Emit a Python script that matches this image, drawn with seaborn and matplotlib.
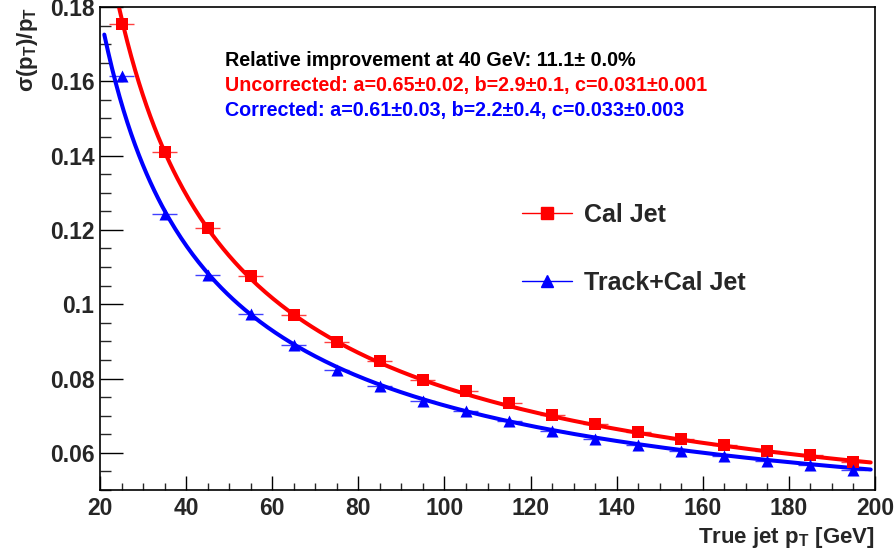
import numpy as np
import pandas as pd
import matplotlib
matplotlib.use("Agg")
import matplotlib.pyplot as plt
import seaborn as sns
from matplotlib.ticker import MultipleLocator
from matplotlib.lines import Line2D

# ---- data ----
pt_bins = [25, 35, 45, 55, 65, 75, 85, 95, 105, 115, 125, 135, 145, 155, 165, 175, 185, 195]
cal_jet = [0.1754, 0.1409, 0.1204, 0.1075, 0.0972, 0.0897, 0.0848, 0.0797, 0.0767,
           0.0735, 0.0702, 0.0678, 0.0657, 0.0638, 0.0622, 0.0605, 0.0594, 0.0576]
track_cal_jet = [0.1614, 0.1244, 0.1080, 0.0975, 0.0891, 0.0824, 0.0781, 0.0740, 0.0713,
                 0.0686, 0.0659, 0.0638, 0.0622, 0.0605, 0.0592, 0.0578, 0.0568, 0.0554]
x_err = 2.9
# fit results printed on the chart: sigma/pT = sqrt(a^2/pT + b^2/pT^2 + c^2)
fit_uncorrected = [0.65, 2.9, 0.031]
fit_corrected = [0.61, 2.2, 0.033]
fit_range = [21, 199]
labels = ["Cal Jet", "Track+Cal Jet"]
colors = ["#ff0000", "#0000ff"]
markers = ["s", "^"]
info_lines = ["Relative improvement at 40 GeV: 11.1\u00b1 0.0%",
              "Uncorrected: a=0.65\u00b10.02, b=2.9\u00b10.1, c=0.031\u00b10.001",
              "Corrected: a=0.61\u00b10.03, b=2.2\u00b10.4, c=0.033\u00b10.003"]
info_colors = ["black", "#ff0000", "#0000ff"]

sns.set_style("white")
plt.rcParams['font.family'] = ['Liberation Sans', 'DejaVu Sans']
plt.rcParams['font.weight'] = 'bold'
plt.rcParams['mathtext.fontset'] = 'custom'
plt.rcParams['mathtext.rm'] = 'Liberation Sans:bold'
plt.rcParams['mathtext.it'] = 'Liberation Sans:bold'
plt.rcParams['mathtext.bf'] = 'Liberation Sans:bold'

fig = plt.figure(figsize=(8.96, 5.5), dpi=100)
ax = fig.add_axes([100/896, 1-490/550, 775/896, 483/550])


def resolution_curve(params):
    a, b, c = params
    xs = np.linspace(fit_range[0], fit_range[1], 400)
    return xs, np.sqrt(a**2/xs + b**2/xs**2 + c**2)


for vals, pars, col, mk in zip([cal_jet, track_cal_jet], [fit_uncorrected, fit_corrected],
                               colors, markers):
    xs, ys = resolution_curve(pars)
    sns.lineplot(x=xs, y=ys, ax=ax, color=col, linewidth=2.9, legend=False, zorder=2)
    ax.errorbar(pt_bins, vals, xerr=x_err, fmt='none', ecolor=col, elinewidth=1.0,
                alpha=0.75, zorder=3)
    df = pd.DataFrame({"pt": pt_bins, "res": vals})
    sns.scatterplot(data=df, x="pt", y="res", ax=ax, color=col, marker=mk, s=75,
                    edgecolor=col, linewidth=0, zorder=4)

ax.set_xlim(20, 200)
ax.set_ylim(0.05, 0.18)
ax.xaxis.set_major_locator(MultipleLocator(20))
ax.xaxis.set_minor_locator(MultipleLocator(5))
ax.yaxis.set_major_locator(MultipleLocator(0.02))
ax.yaxis.set_minor_locator(MultipleLocator(0.005))
ax.yaxis.set_major_formatter(matplotlib.ticker.FuncFormatter(
    lambda v, p: "0.1" if abs(v - 0.10) < 1e-9 else f"{v:.2f}"))

ax.tick_params(axis='x', which='major', direction='in', length=10, width=1, labelsize=16.5,
               pad=5, bottom=True, top=False, color='black')
ax.tick_params(axis='x', which='minor', direction='in', length=5, width=1, bottom=True, top=False)
ax.tick_params(axis='y', which='major', direction='in', length=16.5, width=1, labelsize=16.5,
               pad=4, left=True, right=False, color='black')
ax.tick_params(axis='y', which='minor', direction='in', length=8, width=1, left=True, right=False)
for lbl in ax.get_xticklabels() + ax.get_yticklabels():
    lbl.set_fontweight('bold')
for sp in ax.spines.values():
    sp.set_linewidth(1.2)
    sp.set_color('black')

ax.set_xlabel("True jet p$_{T}$ [GeV]", fontsize=16, fontweight='bold', ha='right')
ax.xaxis.set_label_coords(1.0, -0.072)
ax.set_ylabel("")
fig.text(27/896, 1-7/550, "\u03c3(p$_{T}$)/p$_{T}$", fontsize=16, fontweight='bold',
         rotation=90, ha='center', va='top')

# legend
handles = [Line2D([0], [0], color=c, marker=m, markersize=8, linewidth=1.0)
           for c, m in zip(colors, markers)]
leg = ax.legend(handles, labels, loc='upper left', bbox_to_anchor=(499/896, 1-180/550),
                bbox_transform=fig.transFigure, frameon=False, fontsize=18,
                handlelength=2.0, handletextpad=0.48, labelspacing=1.76)
for t in leg.get_texts():
    t.set_fontweight('bold')

for i, (txt, col) in enumerate(zip(info_lines, info_colors)):
    fig.text(225/896, 1-(60+25.3*i)/550, txt, color=col, fontsize=14.2, fontweight='bold',
             va='center', ha='left')

fig.savefig("out.png", dpi=100)
